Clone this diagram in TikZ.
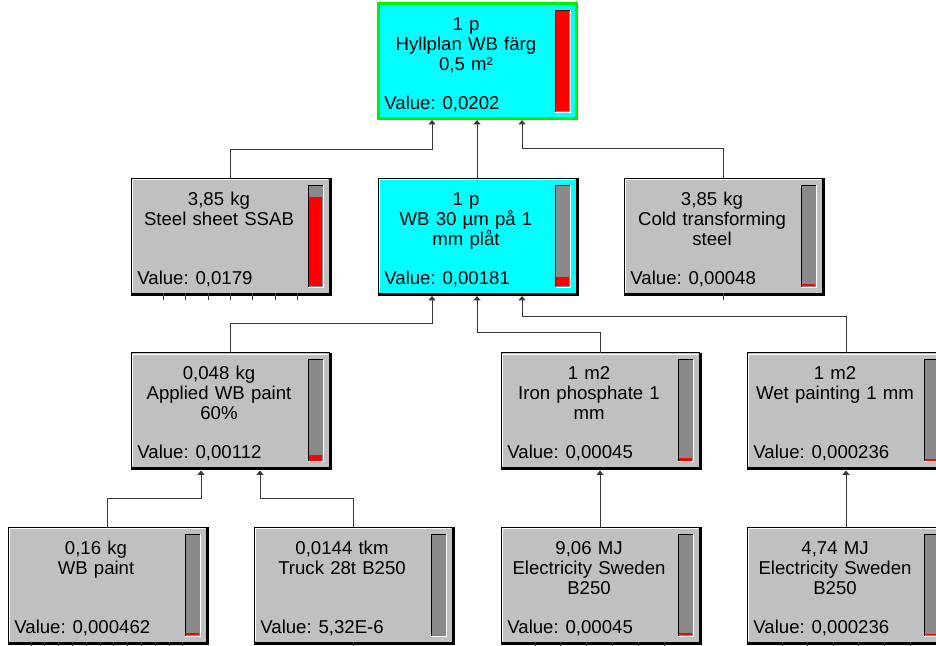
\documentclass[tikz,border=0pt]{standalone}
\usepackage{fontspec}
\setmainfont{Liberation Sans}
\usetikzlibrary{arrows.meta}
\definecolor{boxgray}{HTML}{C0C0C0}
\definecolor{cyanbox}{HTML}{00FFFF}
\definecolor{greenframe}{HTML}{00EE00}
\definecolor{bargray}{HTML}{8A8A8A}
\definecolor{barred}{HTML}{FF0000}
\definecolor{linkgray}{HTML}{383838}
\tikzset{
  pbox/.style={draw=black, line width=0.5pt, fill=boxgray, minimum width=99pt, minimum height=57.5pt, inner sep=0pt, outer sep=0pt},
  pmain/.style={pbox, fill=cyanbox},
  proot/.style={pbox, fill=cyanbox, draw=greenframe, line width=1.5pt},
  ptext/.style={anchor=base, text width=86pt, align=center, inner sep=0pt, font=\fontsize{9.3pt}{10pt}\selectfont},
  pval/.style={anchor=base west, inner sep=0pt, font=\fontsize{9.3pt}{10pt}\selectfont},
  link/.style={-{Triangle[length=2.2pt, width=3.5pt]}, line width=0.5pt, draw=linkgray},
  stub/.style={line width=0.5pt, draw=linkgray},
}
% value bar at the right of a box: #1 box, #2 height of red part (px)
\newcommand{\valbar}[2]{%
  \coordinate (#1-bt) at ([shift={(177,7)}]#1.north west);
  \coordinate (#1-bb) at ([shift={(192,-6)}]#1.south west);
  \coordinate (#1-bl) at (#1-bt |- #1-bb);
  \fill[bargray] (#1-bt) rectangle (#1-bb);
  \fill[barred] ([shift={(-1,-1)}]#1-bb) rectangle ([shift={(1,-1-#2)}]#1-bl);
  \draw[black, line width=0.5pt] (#1-bl) -- (#1-bt) -- (#1-bt -| #1-bb);
  \draw[white, line width=0.5pt] (#1-bt -| #1-bb) -- (#1-bb) -- (#1-bl);
}
% raised look of a box
\newcommand{\raisededge}[1]{%
  \draw[white, line width=0.5pt] ([shift={(1.5,-1.5)}]#1.south west) -- ([shift={(1.5,1.5)}]#1.north west) -- ([shift={(-1.5,1.5)}]#1.north east);
  \draw[black, line width=1.25pt] ([shift={(1.25,0)}]#1.north east) -- ([shift={(1.25,1.25)}]#1.south east) -- ([shift={(0,1.25)}]#1.south west);
}

\begin{document}
\begin{tikzpicture}[x=0.5pt, y=-0.5pt]
  \useasboundingbox (0,0) rectangle (936,645);
  \fill[white] (0,0) rectangle (936,645);
  \clip (0,0) rectangle (936,645);

  % boxes
  \node[proot] (root) at (477,60.5) {};
  \node[pbox] (steel) at (230,235.5) {};
  \node[pmain] (wbplate) at (477,235.5) {};
  \node[pbox] (cold) at (723,235.5) {};
  \node[pbox] (applied) at (230,410) {};
  \node[pbox] (iron) at (600,410) {};
  \node[pbox] (wet) at (846,410) {};
  \node[pbox] (wbpaint) at (107,584.5) {};
  \node[pbox] (truck) at (353,584.5) {};
  \node[pbox] (elecA) at (600,584.5) {};
  \node[pbox] (elecB) at (846,584.5) {};

  \foreach \b in {steel,wbplate,cold,applied,iron,wet,wbpaint,truck,elecA,elecB}
    \raisededge{\b};

  % bars
  \valbar{root}{100}
  \valbar{steel}{89}
  \valbar{wbplate}{9}
  \valbar{cold}{2.5}
  \valbar{applied}{5.5}
  \valbar{iron}{2.2}
  \valbar{wet}{1.5}
  \valbar{wbpaint}{2.3}
  \valbar{truck}{0}
  \valbar{elecA}{2.2}
  \valbar{elecB}{1.5}

  % texts
  \node[ptext] (root-t) at ([shift={(88,27)}]root.north west) {1 p\\Hyllplan WB färg\\0,5 m²};
  \node[pval] (root-v) at ([shift={(6,-9)}]root.south west) {Value: 0,0202};
  \node[ptext] (steel-t) at ([shift={(88,27)}]steel.north west) {3,85 kg\\Steel sheet SSAB};
  \node[pval] (steel-v) at ([shift={(6,-9)}]steel.south west) {Value: 0,0179};
  \node[ptext] (wbplate-t) at ([shift={(88,27)}]wbplate.north west) {1 p\\WB 30 µm på 1\\mm plåt};
  \node[pval] (wbplate-v) at ([shift={(6,-9)}]wbplate.south west) {Value: 0,00181};
  \node[ptext] (cold-t) at ([shift={(88,27)}]cold.north west) {3,85 kg\\Cold transforming\\steel};
  \node[pval] (cold-v) at ([shift={(6,-9)}]cold.south west) {Value: 0,00048};
  \node[ptext] (applied-t) at ([shift={(88,27)}]applied.north west) {0,048 kg\\Applied WB paint\\60\%};
  \node[pval] (applied-v) at ([shift={(6,-9)}]applied.south west) {Value: 0,00112};
  \node[ptext] (iron-t) at ([shift={(88,27)}]iron.north west) {1 m2\\Iron phosphate 1\\mm};
  \node[pval] (iron-v) at ([shift={(6,-9)}]iron.south west) {Value: 0,00045};
  \node[ptext] (wet-t) at ([shift={(88,27)}]wet.north west) {1 m2\\Wet painting 1 mm};
  \node[pval] (wet-v) at ([shift={(6,-9)}]wet.south west) {Value: 0,000236};
  \node[ptext] (wbpaint-t) at ([shift={(88,27)}]wbpaint.north west) {0,16 kg\\WB paint};
  \node[pval] (wbpaint-v) at ([shift={(6,-9)}]wbpaint.south west) {Value: 0,000462};
  \node[ptext] (truck-t) at ([shift={(88,27)}]truck.north west) {0,0144 tkm\\Truck 28t B250};
  \node[pval] (truck-v) at ([shift={(6,-9)}]truck.south west) {Value: 5,32E-6};
  \node[ptext] (elecA-t) at ([shift={(88,27)}]elecA.north west) {9,06 MJ\\Electricity Sweden\\B250};
  \node[pval] (elecA-v) at ([shift={(6,-9)}]elecA.south west) {Value: 0,00045};
  \node[ptext] (elecB-t) at ([shift={(88,27)}]elecB.north west) {4,74 MJ\\Electricity Sweden\\B250};
  \node[pval] (elecB-v) at ([shift={(6,-9)}]elecB.south west) {Value: 0,000236};

  % links
  \draw[link] (steel.north) -- ++(0,-29) -| ([shift={(-45,2)}]root.south);
  \draw[link] (wbplate.north) -- ([shift={(0,2)}]root.south);
  \draw[link] (cold.north) -- ++(0,-30) -| ([shift={(45,2)}]root.south);
  \draw[link] (applied.north) -- ++(0,-29) -| ([shift={(-45,3)}]wbplate.south);
  \draw[link] (iron.north) -- ++(0,-20) -| ([shift={(0,3)}]wbplate.south);
  \draw[link] (wet.north) -- ++(0,-36) -| ([shift={(45,3)}]wbplate.south);
  \draw[link] (wbpaint.north) -- ++(0,-29) -| ([shift={(-29,3)}]applied.south);
  \draw[link] (truck.north) -- ++(0,-29) -| ([shift={(30,3)}]applied.south);
  \draw[link] (elecA.north) -- ([shift={(0,3)}]iron.south);
  \draw[link] (elecB.north) -- ([shift={(0,3)}]wet.south);

  % cut off inputs
  \foreach \dx in {-67,-44.5,-22,0,22.5,45,67.5}
    \draw[stub] ([shift={(\dx,0)}]steel.south) -- ++(0,7);
  \draw[stub] (cold.south) -- ++(0,7);
  \draw[stub] (truck.south) -- ++(0,7);
  \foreach \i in {0,...,11}
    \draw[stub] ([shift={(-76+13.8*\i,0)}]wbpaint.south) -- ++(0,7);
  \foreach \i in {0,...,5}{
    \draw[stub] ([shift={(-65+25.8*\i,0)}]elecA.south) -- ++(0,7);
    \draw[stub] ([shift={(-64+25.6*\i,0)}]elecB.south) -- ++(0,7);
  }
\end{tikzpicture}
\end{document}
